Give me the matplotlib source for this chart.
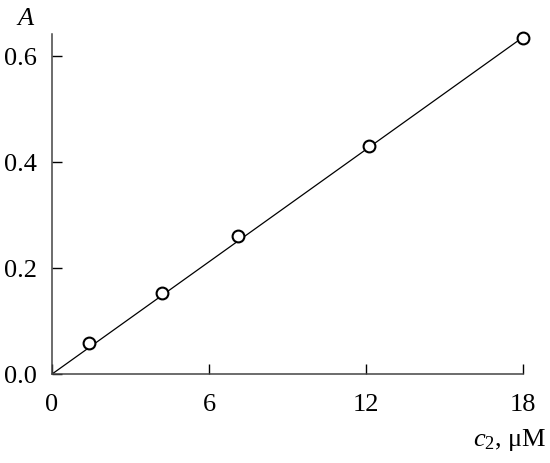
import numpy as np
import matplotlib.pyplot as plt

plt.rcParams['font.family'] = 'Liberation Serif'
plt.rcParams['mathtext.fontset'] = 'custom'
plt.rcParams['mathtext.rm'] = 'Liberation Serif'
plt.rcParams['mathtext.it'] = 'Liberation Serif:italic'

# data
c2 = [1.4, 4.2, 7.1, 12.1, 18.0]
absorb = [0.058, 0.153, 0.26, 0.43, 0.635]
line_x = [0, 18]
line_y = [0, 0.636]
xticks = [0, 6, 12, 18]
yticks = [0.0, 0.2, 0.4, 0.6]

fig = plt.figure(figsize=(5.5, 4.63), dpi=100)
ax = fig.add_axes([0.0945, 0.192, 0.857, 0.735])

ax.plot(line_x, line_y, color='black', lw=0.9)
ax.plot(c2, absorb, 'o', mfc='white', mec='black', ms=8.5, mew=1.5, clip_on=False)

ax.set_xlim(0, 18)
ax.set_ylim(0, 0.642)
ax.set_xticks(xticks)
ax.set_yticks(yticks)
ax.set_yticklabels([f'{v:.1f}' for v in yticks])
ax.tick_params(direction='in', length=7, width=1, labelsize=19)
ax.tick_params(axis='y', pad=11)
ax.tick_params(axis='x', pad=14)
for s in ['top', 'right']:
    ax.spines[s].set_visible(False)
for s in ['left', 'bottom']:
    ax.spines[s].set_linewidth(1.1)
    ax.spines[s].set_color('#444444')

fig.text(26 / 550, 1 - 19 / 463, 'A', fontsize=19, style='italic', ha='center', va='center')
fig.text(510 / 550, 1 - 440 / 463, r'$c_2$, μM', fontsize=19, ha='center', va='center')

plt.savefig('out.png')
